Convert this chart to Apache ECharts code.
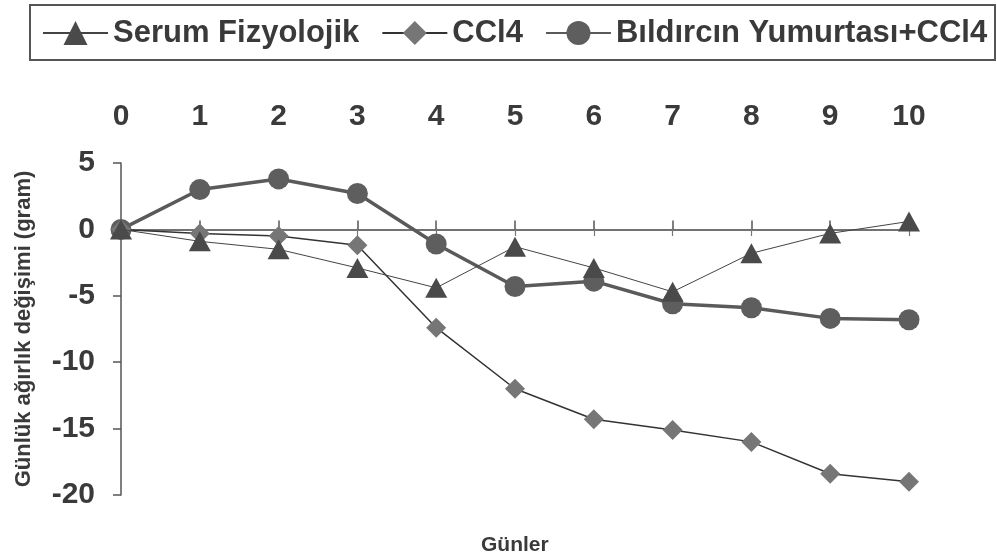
<!DOCTYPE html>
<html>
<head>
<meta charset="utf-8">
<script src="https://cdn.jsdelivr.net/npm/echarts@6/dist/echarts.min.js"></script>
<style>html,body{margin:0;padding:0;background:#fff}#c{width:997px;height:560px}</style>
</head>
<body>
<div id="c"></div>
<script>
var days = ['0','1','2','3','4','5','6','7','8','9','10'];
var serumName = 'Serum Fizyolojik';
var ccl4Name = 'CCl4';
var bildName = 'Bıldırcın Yumurtası+CCl4';
var serum = [0, -0.9, -1.5, -2.9, -4.4, -1.3, -2.9, -4.7, -1.8, -0.3, 0.6];
var ccl4 = [0, -0.3, -0.5, -1.2, -7.4, -12.0, -14.3, -15.1, -16.0, -18.4, -19.0];
var bild = [0, 3.0, 3.8, 2.7, -1.1, -4.3, -3.9, -5.6, -5.9, -6.7, -6.8];
var yTicks = [-20, -15, -10, -5, 0, 5];
var yTitle = 'Günlük ağırlık değişimi (gram)';
var xTitle = 'Günler';

var FONT = '"Liberation Sans", Arial, sans-serif';
var TXT = '#3a3a3a';
var chart = echarts.init(document.getElementById('c'));
chart.setOption({
  animation: false,
  backgroundColor: '#fff',
  grid: {left: 121, right: 88, top: 163, bottom: 65},
  graphic: [
    {type: 'rect', shape: {x: 30, y: 5, width: 965, height: 55}, style: {fill: 'none', stroke: '#555', lineWidth: 2}, z: 0},
    {type: 'text', left: 481, top: 535, style: {text: xTitle, font: 'bold 21px ' + FONT, fill: TXT}}
  ],
  legend: {
    data: [serumName, ccl4Name, bildName],
    left: 42, top: 17, padding: 0,
    itemWidth: 65, itemHeight: 30, itemGap: 22,
    textStyle: {fontFamily: FONT, fontWeight: 'bold', fontSize: 31, color: TXT, lineHeight: 32}
  },
  xAxis: [
    {type: 'category', data: days, boundaryGap: false, position: 'top',
     axisLine: {show: false, onZero: false}, axisTick: {show: false},
     axisLabel: {margin: 31, fontFamily: FONT, fontWeight: 'bold', fontSize: 30, color: TXT},
     splitLine: {show: false}},
    {type: 'category', data: days, boundaryGap: false, position: 'bottom',
     axisLine: {show: true, onZero: true, lineStyle: {color: '#444', width: 1.5}},
     axisTick: {show: true, inside: true, length: 9, alignWithLabel: true, lineStyle: {color: '#555', width: 1.5}},
     axisLabel: {show: false}, splitLine: {show: false}},
    {type: 'category', data: days, boundaryGap: false, position: 'top', offset: -65,
     axisLine: {show: false, onZero: false},
     axisTick: {show: true, inside: true, length: 8, lineStyle: {color: '#777', width: 1.2}},
     axisLabel: {show: false}, splitLine: {show: false}}
  ],
  yAxis: {
    type: 'value', min: -20, max: 5, interval: 5,
    name: yTitle, nameLocation: 'middle', nameGap: 86, nameRotate: 90,
    nameTextStyle: {fontFamily: FONT, fontWeight: 'bold', fontSize: 22, color: TXT},
    axisLine: {show: true, lineStyle: {color: '#555', width: 1.5}},
    axisTick: {show: true, length: 8, lineStyle: {color: '#555', width: 1.5}},
    axisLabel: {margin: 26, fontFamily: FONT, fontWeight: 'bold', fontSize: 30, color: TXT, padding: [6, 0, 0, 0],
      formatter: function (v) { return yTicks.indexOf(v) >= 0 ? String(v) : ''; }},
    splitLine: {show: false}
  },
  series: [
    {name: bildName, type: 'line', data: bild, symbol: 'circle', symbolSize: 21,
     lineStyle: {color: '#5a5a5a', width: 3.5}, itemStyle: {color: '#5e5e5e'}, z: 2},
    {name: ccl4Name, type: 'line', data: ccl4, symbol: 'diamond', symbolSize: [20, 20],
     lineStyle: {color: '#333', width: 1.5}, itemStyle: {color: '#767676'}, z: 3},
    {name: serumName, type: 'line', data: serum, symbol: 'triangle', symbolSize: [22, 20],
     lineStyle: {color: '#444', width: 1}, itemStyle: {color: '#4a4a4a'}, z: 4}
  ]
});
</script>
</body>
</html>
